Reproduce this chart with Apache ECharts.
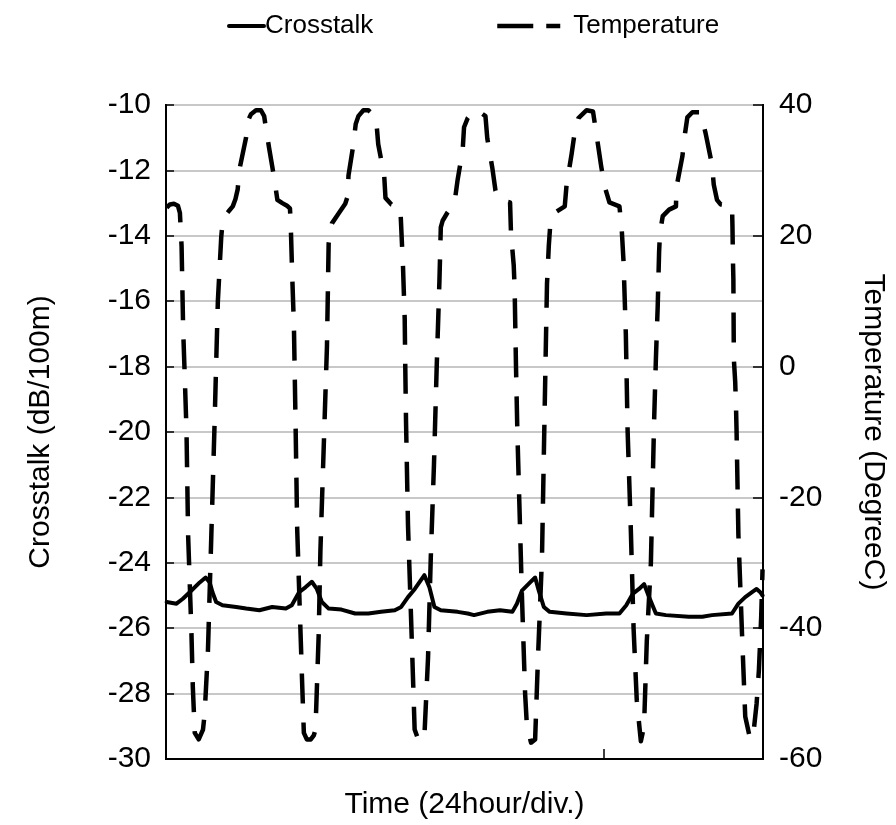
<!DOCTYPE html>
<html>
<head>
<meta charset="utf-8">
<script src="https://cdn.jsdelivr.net/npm/echarts@6/dist/echarts.min.js"></script>
<style>
  html, body { margin: 0; padding: 0; background: #fff; }
  #chart { width: 896px; height: 825px; }
</style>
</head>
<body>
<div id="chart"></div>
<script>
// Time axis in hours (24 hour per division)
const xMin = 0;
const xMax = 131;
const xTickInterval = 96;

const crosstalkLabel = 'Crosstalk';
const temperatureLabel = 'Temperature';

// Crosstalk (dB/100m) vs time (hours)
const crosstalkTime = [0.15, 2.3, 3.7, 5.2, 7.4, 8.7, 9.6, 10.2, 11.0, 12.4, 15.4, 17.6, 20.5, 23.3, 26.3, 27.6,
  29.2, 30.6, 32.0, 33.1, 34.2, 35.7, 38.5, 41.5, 44.4, 47.2, 50.2, 51.6, 53.1, 54.6, 56.7, 57.8, 58.9,
  60.3, 64.0, 66.2, 67.6, 70.5, 73.3, 76.0, 77.0, 78.1, 79.9, 81.0, 81.8, 82.9, 84.2, 87.9, 92.3, 96.6,
  99.5, 101.0, 102.4, 103.8, 104.9, 106.0, 107.5, 109.7, 114.7, 117.7, 119.8, 124.2, 125.6, 127.1, 128.6,
  129.6, 130.4, 130.9];
const crosstalkValues = [-25.2, -25.25, -25.1, -24.9, -24.6, -24.45, -24.6, -24.9, -25.2, -25.3, -25.35, -25.4, -25.45, -25.35, -25.4, -25.3,
  -24.9, -24.75, -24.58, -24.8, -25.2, -25.4, -25.43, -25.55, -25.55, -25.5, -25.45, -25.35, -25.05, -24.8, -24.38, -24.75, -25.35,
  -25.45, -25.5, -25.55, -25.6, -25.5, -25.45, -25.5, -25.25, -24.85, -24.6, -24.45, -24.85, -25.35, -25.5, -25.55, -25.6, -25.55,
  -25.55, -25.3, -24.95, -24.8, -24.65, -25.05, -25.55, -25.6, -25.65, -25.65, -25.6, -25.55, -25.25, -25.05, -24.9,
  -24.8, -24.9, -25.0];

// Temperature (DegreeC) vs time (hours)
const temperatureTime = [0.15, 0.87, 1.74, 2.61, 3.05, 3.42, 3.76, 4.13, 4.50, 4.85, 5.59, 5.88, 6.31, 7.18,
  8.12, 8.49, 9.21, 9.95, 10.66, 10.99, 11.38, 12.12, 12.47, 13.21, 13.93, 14.65, 15.23, 15.73, 16.10, 17.56,
  17.91, 18.65, 19.74, 20.83, 21.54, 21.92, 22.63, 23.72, 24.44, 25.53, 26.55, 27.20, 27.36, 27.70, 28.07,
  28.44, 28.79, 29.53, 29.88, 30.25, 30.90, 31.77, 32.43, 32.80, 33.51, 33.88, 34.23, 34.60, 35.32, 35.69,
  36.41, 37.87, 39.33, 39.89, 40.04, 41.13, 41.63, 42.22, 43.31, 44.40, 45.85, 46.20, 46.57, 47.88, 48.16,
  49.47, 51.29, 51.51, 52.01, 52.38, 52.51, 52.67, 53.10, 53.82, 54.19, 54.56, 55.5, 56.7, 57.5, 58.1, 58.8,
  59.4, 60.0, 60.3, 60.7, 61.8, 63.3, 64.0, 65.1, 65.4, 66.2, 67.3, 68.3, 70.1, 70.5, 71.6, 72.3, 73.3, 75.5,
  75.7, 76.3, 76.5, 76.8, 77.1, 77.5, 78.1, 78.8, 79.2, 80.1, 81.0, 81.6, 82.5, 83.0, 83.6, 84.0, 84.3, 85.7,
  87.5, 87.9, 89.0, 89.7, 90.5, 92.3, 93.7, 94.5, 95.5, 96.2, 97.3, 99.5, 100.0, 100.4, 100.9, 101.3, 102.0,
  102.6, 103.3, 104.2, 104.9, 105.5, 106.4, 107.1, 107.5, 107.9, 108.2, 108.4, 109.0, 110.4, 111.9, 112.0,
  113.3, 113.9, 114.4, 115.5, 117.3, 118.4, 119.8, 120.2, 120.9, 121.7, 124.2, 124.3, 124.4, 124.5, 124.6,
  124.9, 125.1, 125.2, 125.6, 126.4, 127.1, 128.2, 128.9, 129.6, 130.1, 130.6, 130.9];
const temperatureValues = [24.3, 24.8, 24.9, 24.6, 23.5, 18.4, 5.8, -1.8, -9.9, -25.7, -40.9, -48.9, -56.0, -57.0,
  -55.5, -53, -43.3, -25.7, -8.7, 0, 10, 19.8, 22.5, 23.3, 23.9, 24.5, 25.6, 27.1, 30.1, 35.0,
  37.5, 38.6, 39.2, 39.2, 38.3, 36.5, 33.4, 28.9, 25.5, 25.0, 24.6, 24.2, 22, 13.8, 6.2,
  -9.1, -24.9, -40.9, -48.5, -56.0, -57.0, -57.0, -56.4, -55.5, -40.9, -28.2, -20.5, -12.5, 3.1, 18.8,
  21.9, 23.4, 24.9, 26.1, 29.2, 34.0, 37.1, 38.3, 39.2, 39.2, 38.3, 37.1, 34.0, 29.2, 25.8,
  24.8, 24.5, 22.9, 15.2, 7.3, -0.3, -8.4, -24.2, -39.4, -47.4, -55.5, -57.3, -56.5, -44.5, -29.2, -15,
  0, 13.1, 21.3, 22.3, 23.6, 25.0, 28.6, 33.1, 36.6, 38.0, 39.0, 39.2, 38.3, 34.9, 30.4, 26.9, 25.4, 25.1,
  20.4, 15.5, 12, 0, -10, -20, -35, -50, -55, -57.5, -57, -45, -29.2, -10, 12.6, 18.5, 21.5, 23.7,
  24.5, 27.8, 32.5, 35.9, 38.0, 39.2, 39.0, 35.3, 30.6, 27.7, 25.1, 24.5, 21.0, 16.0, 5, -10, -25,
  -40, -51, -57.3, -55, -42, -30, -8.5, 1.2, 9.3, 17.5, 20.5, 23.0, 24.0, 24.5, 27.4,
  32.1, 35.7, 38.1, 38.9, 38.9, 35.7, 30.9, 27.8, 25.5, 24.8, 24.6, 21.4, 16.4, 13.4, 1.2,
  -2.3, -6.8, -9.9, -25.7, -40.9, -53.5, -57.0, -56.1, -51.5, -46.4, -38.3, -31.0];

// Axis ranges
const leftMin = -30, leftMax = -10, leftInterval = 2;
const rightMin = -60, rightMax = 40, rightInterval = 20;

const crosstalkData = crosstalkTime.map((t, i) => [t, crosstalkValues[i]]);
const temperatureData = temperatureTime.map((t, i) => [t, temperatureValues[i]]);

const FONT = 'Liberation Sans, Arial, sans-serif';
const TICK_FONT = 30;
const TITLE_FONT = 30;
const LEGEND_FONT = 26;
const chart = echarts.init(document.getElementById('chart'), null, { renderer: 'canvas' });

const hiddenSymbol = { opacity: 0, color: 'rgba(0,0,0,0)', borderWidth: 0 };

chart.setOption({
  animation: false,
  backgroundColor: '#ffffff',
  textStyle: { fontFamily: FONT, color: '#000' },
  legend: [
    {
      left: 222, top: 8, itemWidth: 35, itemHeight: 14,
      textStyle: { fontSize: LEGEND_FONT, fontFamily: FONT, color: '#000', padding: [0, 0, 0, -4] },
      data: [{ name: crosstalkLabel, itemStyle: hiddenSymbol,
               lineStyle: { type: 'solid', width: 4, color: '#000' } }]
    },
    {
      left: 490, top: 8, itemWidth: 63, itemHeight: 14,
      textStyle: { fontSize: LEGEND_FONT, fontFamily: FONT, color: '#000', padding: [0, 0, 0, 8] },
      data: [{ name: temperatureLabel, itemStyle: hiddenSymbol,
               lineStyle: { type: [36, 13], width: 4.5, color: '#000' } }]
    }
  ],
  grid: {
    left: 166, right: 130, top: 105, bottom: 62,
    show: true, borderColor: '#000', borderWidth: 2, containLabel: false
  },
  xAxis: {
    type: 'value', min: xMin, max: xMax, interval: xTickInterval,
    name: 'Time (24hour/div.)', nameLocation: 'middle', nameGap: 31,
    nameTextStyle: { fontSize: TITLE_FONT, fontFamily: FONT, color: '#000' },
    axisLine: { show: true, onZero: false, lineStyle: { color: '#000', width: 2 } },
    axisTick: { show: true, inside: true, length: 10, lineStyle: { color: '#000', width: 1.5 } },
    axisLabel: { show: false },
    splitLine: { show: false }
  },
  yAxis: [
    {
      type: 'value', min: leftMin, max: leftMax, interval: leftInterval, position: 'left',
      name: 'Crosstalk (dB/100m)', nameLocation: 'middle', nameGap: 110, nameRotate: 90,
      nameTextStyle: { fontSize: TITLE_FONT, fontFamily: FONT, color: '#000' },
      axisLine: { show: true, onZero: false, lineStyle: { color: '#000', width: 2 } },
      axisTick: { show: true, inside: true, length: 8, lineStyle: { color: '#000', width: 1.5 } },
      axisLabel: { fontSize: TICK_FONT, fontFamily: FONT, color: '#000', margin: 15 },
      splitLine: { show: true, lineStyle: { color: '#c8c8c8', width: 2 } }
    },
    {
      type: 'value', min: rightMin, max: rightMax, interval: rightInterval, position: 'right',
      name: 'Temperature (DegreeC)', nameLocation: 'middle', nameGap: 95, nameRotate: -90,
      nameTextStyle: { fontSize: TITLE_FONT, fontFamily: FONT, color: '#000' },
      axisLine: { show: true, onZero: false, lineStyle: { color: '#000', width: 2 } },
      axisTick: { show: true, inside: true, length: 10, lineStyle: { color: '#000', width: 1.5 } },
      axisLabel: { fontSize: TICK_FONT, fontFamily: FONT, color: '#000', margin: 16 },
      splitLine: { show: false }
    }
  ],
  series: [
    {
      name: crosstalkLabel, type: 'line', yAxisIndex: 0, data: crosstalkData,
      symbol: 'none', smooth: false,
      lineStyle: { color: '#000', width: 4, type: 'solid', join: 'round', cap: 'round' },
      itemStyle: { color: '#000' }, z: 3
    },
    {
      name: temperatureLabel, type: 'line', yAxisIndex: 1, data: temperatureData,
      symbol: 'none', smooth: false,
      lineStyle: { color: '#000', width: 4.5, type: [30, 19], join: 'round' },
      itemStyle: { color: '#000' }, z: 2
    }
  ]
});
</script>
</body>
</html>
